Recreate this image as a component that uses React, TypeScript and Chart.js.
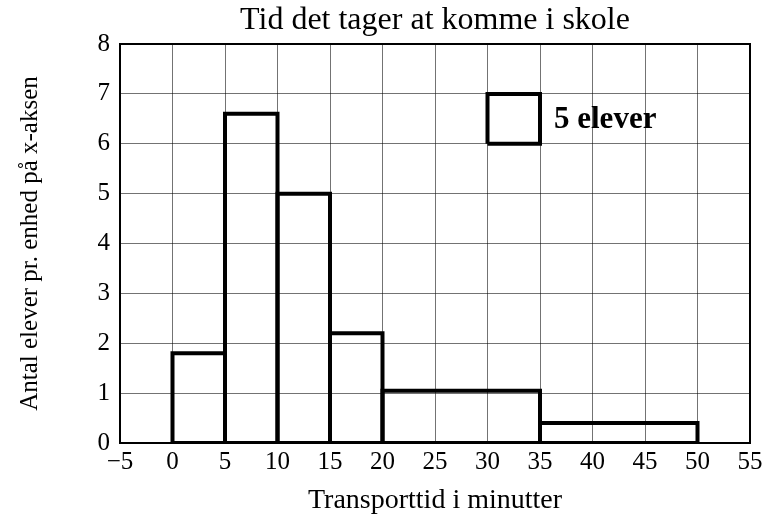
import React, { useEffect, useRef } from "react";
import { Chart, registerables } from "chart.js";

Chart.register(...registerables);

const TITLE = "Tid det tager at komme i skole";
const X_TITLE = "Transporttid i minutter";
const Y_TITLE = "Antal elever pr. enhed på x-aksen";
const LEGEND_TEXT = "5 elever";

// class intervals (minutes) and heights (students per unit on x-axis)
const binStarts = [0, 5, 10, 15, 20, 35];
const binEnds = [5, 10, 15, 20, 35, 50];
const binHeights = [1.8, 6.6, 5.0, 2.2, 1.05, 0.4];

// legend key box: 5 units wide, 1 unit tall => area 5 students
const keyX = [30, 35];
const keyY = [6, 7];

const X_MIN = -5;
const X_MAX = 55;
const X_STEP = 5;
const Y_MIN = 0;
const Y_MAX = 8;
const Y_STEP = 1;

const FONT = "'Liberation Serif', 'Times New Roman', serif";

function rect(x0: number, x1: number, y0: number, y1: number) {
  return [
    { x: x0, y: y0 },
    { x: x0, y: y1 },
    { x: x1, y: y1 },
    { x: x1, y: y0 },
    { x: x0, y: y0 },
  ];
}

export default function App() {
  const ref = useRef<HTMLCanvasElement | null>(null);

  useEffect(() => {
    if (!ref.current) return;

    const datasets: any[] = binStarts.map((s, i) => ({
      label: `${s}-${binEnds[i]}`,
      data: rect(s, binEnds[i], 0, binHeights[i]),
      borderColor: "#000",
      borderWidth: 4,
      pointRadius: 0,
      fill: false,
      tension: 0,
      showLine: true,
      borderJoinStyle: "miter",
    }));
    datasets.push({
      label: "key",
      data: rect(keyX[0], keyX[1], keyY[0], keyY[1]),
      borderColor: "#000",
      borderWidth: 4,
      pointRadius: 0,
      fill: false,
      tension: 0,
      showLine: true,
      borderJoinStyle: "miter",
    });

    const framePlugin = {
      id: "frame",
      afterDatasetsDraw(chart: any) {
        const { ctx, chartArea, scales } = chart;
        ctx.save();
        ctx.strokeStyle = "#000";
        ctx.lineWidth = 2;
        ctx.strokeRect(
          chartArea.left,
          chartArea.top,
          chartArea.right - chartArea.left,
          chartArea.bottom - chartArea.top
        );
        // title centred over the plot area
        ctx.fillStyle = "#000";
        ctx.font = `32px ${FONT}`;
        ctx.textAlign = "center";
        ctx.textBaseline = "middle";
        ctx.fillText(TITLE, (chartArea.left + chartArea.right) / 2, chartArea.top / 2 - 1);
        // key label
        ctx.font = `bold 31px ${FONT}`;
        ctx.textAlign = "left";
        ctx.textBaseline = "middle";
        const tx = scales.x.getPixelForValue(keyX[1]) + 14;
        const ty = scales.y.getPixelForValue((keyY[0] + keyY[1]) / 2) + 1;
        ctx.fillText(LEGEND_TEXT, tx, ty);
        ctx.restore();
      },
    };

    const chart = new Chart(ref.current, {
      type: "scatter",
      data: { datasets },
      plugins: [framePlugin],
      options: {
        animation: false,
        responsive: false,
        maintainAspectRatio: false,
        layout: { padding: { left: 0, right: 21, top: 44, bottom: 0 } },
        plugins: {
          legend: { display: false },
          tooltip: { enabled: false },
          title: { display: false },
        },
        scales: {
          x: {
            type: "linear",
            min: X_MIN,
            max: X_MAX,
            afterFit: (s: any) => {
              s.height = 74;
            },
            ticks: {
              stepSize: X_STEP,
              color: "#000",
              font: { family: FONT, size: 25 },
              padding: 4,
              callback: (v: any) => (Number(v) < 0 ? "\u2212" + Math.abs(Number(v)) : String(v)),
            },
            grid: { color: "rgba(0,0,0,0.55)", lineWidth: 1, drawTicks: false },
            border: { color: "#000", width: 2 },
            title: {
              display: true,
              text: X_TITLE,
              color: "#000",
              font: { family: FONT, size: 28 },
              padding: { top: 4, bottom: 0 },
            },
          },
          y: {
            type: "linear",
            min: Y_MIN,
            max: Y_MAX,
            afterFit: (s: any) => {
              s.width = 120;
            },
            ticks: {
              stepSize: Y_STEP,
              color: "#000",
              font: { family: FONT, size: 25 },
              padding: 10,
            },
            grid: { color: "rgba(0,0,0,0.55)", lineWidth: 1, drawTicks: false },
            border: { color: "#000", width: 2 },
            title: {
              display: true,
              text: Y_TITLE,
              color: "#000",
              font: { family: FONT, size: 25 },
              padding: { top: 15, bottom: 0 },
            },
          },
        },
      } as any,
    });

    return () => chart.destroy();
  }, []);

  return (
    <div style={{ position: "fixed", left: 0, top: 0, width: 771, height: 517, background: "#fff" }}>
      <canvas ref={ref} width={771} height={517} style={{ width: 771, height: 517 }} />
    </div>
  );
}
